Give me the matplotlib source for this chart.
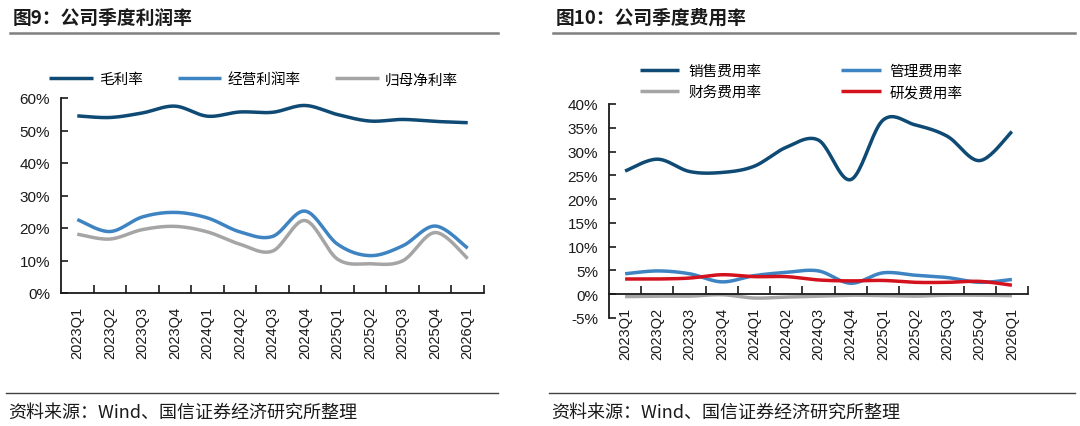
"""
Quarterly margin and expense-ratio charts (图9 / 图10), redrawn with matplotlib.
"""

import matplotlib
import numpy as np

matplotlib.use("Agg")
import matplotlib.pyplot as plt
from matplotlib.lines import Line2D
from matplotlib.ticker import FuncFormatter, FixedLocator

plt.rcParams["font.family"] = ["Liberation Sans", "Noto Sans CJK SC", "DejaVu Sans"]
CJK = ["Noto Sans CJK SC", "Liberation Sans", "DejaVu Sans"]

# -- Data ---------------------------------------------------------------------
QUARTERS = [
    "2023Q1", "2023Q2", "2023Q3", "2023Q4",
    "2024Q1", "2024Q2", "2024Q3", "2024Q4",
    "2025Q1", "2025Q2", "2025Q3", "2025Q4",
    "2026Q1",
]

# Figure 9: profit margins (%)
GROSS_MARGIN = [54.5, 54.0, 55.4, 57.5, 54.4, 55.7, 55.6, 57.7, 54.9, 52.9, 53.4, 52.8, 52.4]
OPERATING_MARGIN = [22.6, 18.9, 23.4, 24.8, 23.1, 18.8, 17.4, 25.2, 15.0, 11.5, 14.5, 20.6, 13.8]
NET_MARGIN = [18.1, 16.6, 19.5, 20.5, 18.8, 15.0, 12.9, 22.3, 10.4, 9.0, 9.9, 18.6, 10.6]

# Figure 10: expense ratios (%)
SELLING_RATIO = [25.9, 28.4, 25.8, 25.6, 26.9, 30.9, 32.4, 24.1, 36.6, 35.6, 33.2, 28.1, 34.2]
ADMIN_RATIO = [4.3, 4.9, 4.3, 2.6, 3.9, 4.6, 4.9, 2.3, 4.5, 4.0, 3.5, 2.5, 3.1]
FINANCE_RATIO = [-0.5, -0.4, -0.4, -0.1, -0.8, -0.6, -0.4, -0.2, -0.3, -0.4, -0.2, -0.2, -0.3]
RND_RATIO = [3.2, 3.2, 3.4, 4.1, 3.7, 3.7, 3.0, 2.8, 2.9, 2.5, 2.5, 2.7, 1.9]

COLORS = {
    "navy": "#0E4A74",
    "blue": "#3F84C2",
    "gray": "#A5A5A5",
    "red": "#D3121E",
}


# -- Helpers ------------------------------------------------------------------
def smooth_curve(y, steps=24):
    """Bezier smoothing through every point (like a spreadsheet 'smoothed line')."""
    y = np.asarray(y, dtype=float)
    x = np.arange(len(y), dtype=float)
    pts = np.column_stack([x, y])
    out = [pts[0]]
    t = np.linspace(0, 1, steps)[1:, None]
    for i in range(len(pts) - 1):
        p0 = pts[max(i - 1, 0)]
        p1 = pts[i]
        p2 = pts[i + 1]
        p3 = pts[min(i + 2, len(pts) - 1)]
        c1 = p1 + (p2 - p0) / 6.0
        c2 = p2 - (p3 - p1) / 6.0
        seg = ((1 - t) ** 3) * p1 + 3 * ((1 - t) ** 2) * t * c1 + 3 * (1 - t) * t ** 2 * c2 + t ** 3 * p2
        out.extend(seg)
    out = np.array(out)
    return out[:, 0], out[:, 1]


def style_axes(ax, ymin, ymax, step):
    ax.set_xlim(-0.5, len(QUARTERS) - 0.5)
    ax.set_ylim(ymin, ymax)
    for side in ("top", "right"):
        ax.spines[side].set_visible(False)
    for side in ("left", "bottom"):
        ax.spines[side].set_linewidth(1.3)
        ax.spines[side].set_color("#1a1a1a")
    ax.spines["bottom"].set_position(("data", 0))

    ax.set_yticks(np.arange(ymin, ymax + step / 2, step))
    ax.yaxis.set_major_formatter(FuncFormatter(lambda v, _: f"{v:.0f}%"))
    ax.tick_params(axis="y", direction="in", length=5, width=1.2, labelsize=11,
                   pad=8, colors="#1a1a1a")

    ax.set_xticks(np.arange(len(QUARTERS)))
    ax.set_xticklabels(QUARTERS, rotation=90, fontsize=10.5)
    ax.xaxis.set_minor_locator(FixedLocator(np.arange(-0.5, len(QUARTERS), 1.0)[1:]))
    ax.tick_params(axis="x", which="major", length=0, pad=9, colors="#1a1a1a")
    ax.tick_params(axis="x", which="minor", direction="in", length=6, width=1.2,
                   color="#1a1a1a")


def draw_line(ax, values, color, label):
    xs, ys = smooth_curve(values)
    ax.plot(xs, ys, color=color, lw=2.5, solid_capstyle="butt", label=label)


def frame_text(fig, x0, x1, title, source):
    fig.text(x0 + 0.002, 1 - 18 / 427, title, fontsize=13.5, family=CJK,
             fontweight="bold", va="center", ha="left", color="#1a1a1a")
    fig.add_artist(Line2D([x0, x1], [1 - 34 / 427] * 2, color="#7f7f7f", lw=1.8))
    fig.add_artist(Line2D([x0 - 0.004, x1], [1 - 394 / 427] * 2, color="#404040", lw=1.0))
    fig.text(x0 - 0.002, 1 - 413 / 427, source, fontsize=13, family=CJK,
             va="center", ha="left", color="#1a1a1a")


LEGEND_FONT = {"family": CJK, "size": 10.5, "weight": "medium"}


# -- Figure 9 -----------------------------------------------------------------
def panel_margins(fig):
    ax = fig.add_axes([61 / 1080, 1 - 294 / 427, 423 / 1080, 195 / 427])
    draw_line(ax, GROSS_MARGIN, COLORS["navy"], "毛利率")
    draw_line(ax, OPERATING_MARGIN, COLORS["blue"], "经营利润率")
    draw_line(ax, NET_MARGIN, COLORS["gray"], "归母净利率")
    style_axes(ax, 0, 60, 10)
    ax.legend(ncol=3, loc="center left", bbox_to_anchor=(-0.042, 1.095), frameon=False,
              prop=LEGEND_FONT, handlelength=3.0, handletextpad=0.4,
              columnspacing=2.4, borderaxespad=0)
    frame_text(fig, 10 / 1080, 498 / 1080, "图9：公司季度利润率",
               "资料来源：Wind、国信证券经济研究所整理")


# -- Figure 10 ----------------------------------------------------------------
def panel_expenses(fig):
    ax = fig.add_axes([609 / 1080, 1 - 319 / 427, 419 / 1080, 214 / 427])
    draw_line(ax, SELLING_RATIO, COLORS["navy"], "销售费用率")
    draw_line(ax, FINANCE_RATIO, COLORS["gray"], "财务费用率")
    draw_line(ax, ADMIN_RATIO, COLORS["blue"], "管理费用率")
    draw_line(ax, RND_RATIO, COLORS["red"], "研发费用率")
    style_axes(ax, -5, 40, 5)
    ax.legend(ncol=2, loc="center left", bbox_to_anchor=(0.06, 1.105), frameon=False,
              prop=LEGEND_FONT, handlelength=2.7, handletextpad=0.6,
              columnspacing=5.5, labelspacing=0.5, borderaxespad=0)
    frame_text(fig, 553 / 1080, 1075 / 1080, "图10：公司季度费用率",
               "资料来源：Wind、国信证券经济研究所整理")


def main():
    fig = plt.figure(figsize=(10.8, 4.27), dpi=100)
    panel_margins(fig)
    panel_expenses(fig)
    fig.savefig("out.png", dpi=100, facecolor="white")
    plt.close(fig)


if __name__ == "__main__":
    main()
